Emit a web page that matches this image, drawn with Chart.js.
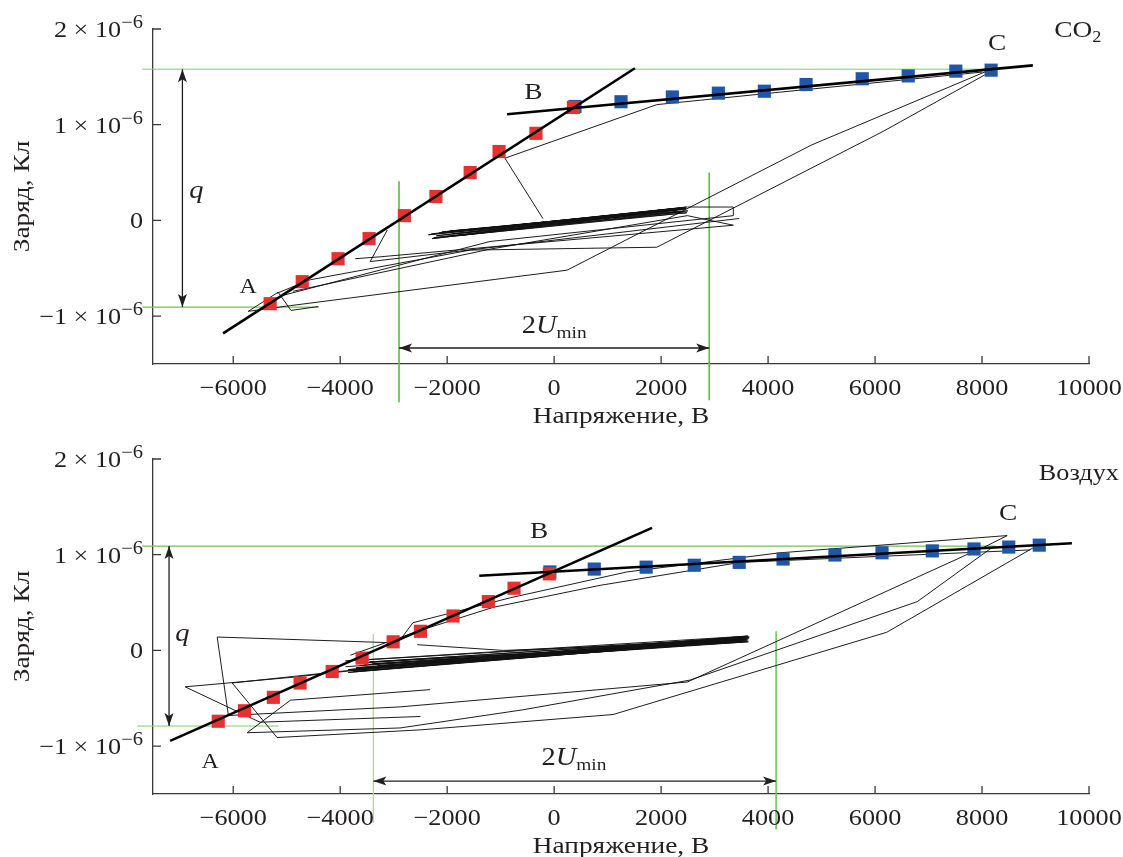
<!DOCTYPE html>
<html>
<head>
<meta charset="utf-8">
<script src="https://cdn.jsdelivr.net/npm/chart.js@4.4.1/dist/chart.umd.min.js"></script>
<style>
    html, body { margin: 0; padding: 0; background: #fff; overflow: hidden; width: 1123px; height: 857px; }
    canvas { position: absolute; left: 0; }
    #co2 { top: 0; }
    #air { top: 430px; }
</style>
</head>
<body>
<canvas id="co2" width="1123" height="430"></canvas>
<canvas id="air" width="1123" height="430"></canvas>
<script>
// axis ticks (voltage in V, charge in units of 10^-6 C)
const xTicks = [-6000, -4000, -2000, 0, 2000, 4000, 6000, 8000, 10000];
const yTicks = [-1, 0, 1, 2];

// ---- CO2 ----
const co2RedU = [-5310, -4710, -4040, -3460, -2800, -2210, -1570, -1030, -340, 360];
const co2RedQ = [-0.87, -0.64, -0.40, -0.19, 0.05, 0.25, 0.50, 0.72, 0.91, 1.18];
const co2BlueU = [390, 1250, 2210, 3070, 3930, 4710, 5760, 6620, 7510, 8170];
const co2BlueQ = [1.19, 1.24, 1.29, 1.33, 1.35, 1.42, 1.48, 1.51, 1.56, 1.57];
const co2FitABU = [-6190, 1510];
const co2FitABQ = [-1.18, 1.59];
const co2FitBCU = [-880, 8950];
const co2FitBCQ = [1.11, 1.62];

const co2Loop1U = [8090, 4820, 240, -4930, -5720, -5160, -4920, -4410];
const co2Loop1Q = [1.56, 0.79, -0.52, -0.89, -0.95, -0.75, -0.94, -0.90];
const co2Loop2U = [8050, 6150, 1920, -1570, -4560, -5180];
const co2Loop2Q = [1.52, 0.93, -0.28, -0.31, -0.62, -0.76];
const co2Loop3U = [-210, -920, 1920, 4220, 8000];
const co2Loop3Q = [0.02, 0.65, 1.21, 1.34, 1.55];
const co2Loop4U = [-5120, -1200, 3350, 3350, 2490];
const co2Loop4Q = [-0.79, -0.22, 0.05, 0.14, 0.14];
const co2Loop5U = [-4880, -1200, 2490, 3350, -3250, -3720];
const co2Loop5Q = [-0.74, -0.30, 0.05, -0.05, -0.38, -0.40];
const co2Loop6U = [-3120, -3440, 3460];
const co2Loop6Q = [-0.10, -0.43, 0.02];
const co2BandU = [-2300, 2480, -2200, 2450, -2100, 2500, -2250, 2400, -1900, 2480, -2000, 2300,
    -2350, 2450, -1600, 2200, -2150, 2420, -1800, 2350, -2280, 2470, -1950, 2380];
const co2BandQ = [-0.14, 0.14, -0.16, 0.12, -0.12, 0.10, -0.18, 0.13, -0.14, 0.08, -0.17, 0.11,
    -0.15, 0.135, -0.10, 0.12, -0.13, 0.09, -0.16, 0.115, -0.19, 0.125, -0.11, 0.10];

// green guides and arrows, CO2
const co2TopU = [-7700, 8050];
const co2TopQ = [1.58, 1.58];
const co2LowU = [-7700, -4400];
const co2LowQ = [-0.905, -0.905];
const co2VLeftU = [-2900, -2900];
const co2VLeftQ = [0.41, -1.90];
const co2VRightU = [2900, 2900];
const co2VRightQ = [0.50, -1.88];
const co2ArrQU = [-6950, -6950];
const co2ArrQQ = [1.58, -0.905];
const co2ArrUU = [-2900, 2900];
const co2ArrUQ = [-1.333, -1.333];

// ---- Air ----
const airRedU = [-6280, -5790, -5250, -4750, -4150, -3590, -3010, -2500, -1890, -1230, -750, -90];
const airRedQ = [-0.74, -0.63, -0.49, -0.34, -0.22, -0.08, 0.09, 0.20, 0.36, 0.51, 0.65, 0.80];
const airBlueU = [-80, 750, 1720, 2620, 3460, 4280, 5250, 6130, 7070, 7850, 8500, 9070];
const airBlueQ = [0.82, 0.85, 0.87, 0.89, 0.92, 0.955, 0.997, 1.02, 1.04, 1.06, 1.08, 1.10];
const airFitABU = [-7180, 1830];
const airFitABQ = [-0.945, 1.28];
const airFitBCU = [-1400, 9680];
const airFitBCQ = [0.78, 1.12];

const airLoop1U = [8950, 6220, 1100, -2500, -5180, -6020, -2500, 3630];
const airLoop1Q = [1.07, 0.19, -0.67, -0.83, -0.91, -0.34, -0.13, 0.15];
const airLoop2U = [8200, 6790, 2540, -580, -2880, -5740, -4930, -2320];
const airLoop2Q = [1.08, 0.51, -0.31, -0.62, -0.81, -0.86, -0.52, -0.41];
const airLoop3U = [7830, 4220, 2490, -2880, -6090, -6300, -3010];
const airLoop3Q = [1.03, 0.11, -0.33, -0.59, -0.68, 0.14, 0.08];
const airLoop4U = [7830, 8470, 4220, 1360, -820, -2640, -2880];
const airLoop4Q = [1.02, 1.20, 1.02, 0.82, 0.55, 0.29, 0.11];
const airLoop5U = [8900, 3480, 860, -1140, -2500, -3810];
const airLoop5Q = [1.05, 0.92, 0.68, 0.45, 0.21, -0.05];
const airLoop6U = [-6900, -4880, -2500];
const airLoop6Q = [-0.38, -0.28, -0.13];
const airLoop7U = [-6900, -5500, -2500];
const airLoop7Q = [-0.38, -0.75, -0.69];
const airLoop8U = [-2560, -950, 3630];
const airLoop8Q = [0.06, 0.00, 0.10];
const airBandU = [-3900, 3630, -3800, 3600, -3600, 3650, -3850, 3550, -3400, 3630, -3700, 3500,
    -3900, 3620, -3300, 3400, -3750, 3600, -3550, 3580, -3850, 3640, -3450, 3520, -3700, 3610];
const airBandQ = [-0.17, 0.12, -0.21, 0.10, -0.13, 0.14, -0.23, 0.11, -0.14, 0.09, -0.19, 0.13,
    -0.11, 0.15, -0.16, 0.10, -0.22, 0.12, -0.15, 0.11, -0.20, 0.13, -0.12, 0.09, -0.18, 0.14];

const airTopU = [-7700, 8260];
const airTopQ = [1.09, 1.09];
const airLowU = [-7800, -5150];
const airLowQ = [-0.79, -0.79];
const airVLeftU = [-3380, -3380];
const airVLeftQ = [0.17, -1.80];
const airVRightU = [4150, 4150];
const airVRightQ = [0.20, -1.87];
const airArrQU = [-7200, -7200];
const airArrQQ = [1.09, -0.79];
const airArrUU = [-3380, 4150];
const airArrUQ = [-1.365, -1.365];

const SX = 1.14;
const SERIF = '"Liberation Serif", "Times New Roman", serif';
const INK = '#231f20';

function pts(us, qs) {
    return us.map((u, i) => ({ x: u, y: qs[i] }));
}
function thin(us, qs) {
    return { data: pts(us, qs), showLine: true, pointRadius: 0, borderColor: '#111', borderWidth: 0.95, order: 3 };
}
function fit(us, qs) {
    return { data: pts(us, qs), showLine: true, pointRadius: 0, borderColor: '#000', borderWidth: 2.6, order: 0 };
}
function squares(us, qs, color, order) {
    return { data: pts(us, qs), showLine: false, pointStyle: 'rect', pointRadius: 9.3,
        pointBackgroundColor: color, pointBorderWidth: 0, order: order };
}
function guide(us, qs, color, width) {
    return { data: pts(us, qs), showLine: true, pointRadius: 0, borderColor: color, borderWidth: width, clip: false, order: 5 };
}
function arrow(us, qs) {
    return { label: 'arrow', data: pts(us, qs), showLine: true, pointRadius: 0, borderColor: INK, borderWidth: 1.3, clip: false, order: 4 };
}

function drawRuns(ctx, runs, x, y, align) {
    let w = 0;
    runs.forEach(r => { ctx.font = r.font; r.w = ctx.measureText(r.text).width * SX; w += r.w; });
    let cx = align === 'right' ? x - w : align === 'center' ? x - w / 2 : x;
    runs.forEach(r => {
        ctx.save();
        ctx.font = r.font;
        ctx.textAlign = 'left';
        ctx.textBaseline = 'alphabetic';
        ctx.translate(cx, y + (r.dy || 0));
        ctx.scale(SX, 1);
        ctx.fillText(r.text, 0, 0);
        ctx.restore();
        cx += r.w;
    });
}

function fmtV(v) {
    return v < 0 ? '\u2212' + Math.abs(v) : String(v);
}

const framePlugin = {
    id: 'frame',
    afterDatasetsDraw(chart) {
        const ctx = chart.ctx;
        ctx.save();
        ctx.fillStyle = INK;
        chart.data.datasets.forEach((ds, i) => {
            if (ds.label !== 'arrow') return;
            const d = chart.getDatasetMeta(i).data;
            const a = d[0], b = d[d.length - 1];
            [[a, b], [b, a]].forEach(([tip, from]) => {
                const ang = Math.atan2(tip.y - from.y, tip.x - from.x);
                ctx.beginPath();
                ctx.moveTo(tip.x, tip.y);
                ctx.lineTo(tip.x - 13 * Math.cos(ang) + 4.5 * Math.sin(ang), tip.y - 13 * Math.sin(ang) - 4.5 * Math.cos(ang));
                ctx.lineTo(tip.x - 10 * Math.cos(ang), tip.y - 10 * Math.sin(ang));
                ctx.lineTo(tip.x - 13 * Math.cos(ang) - 4.5 * Math.sin(ang), tip.y - 13 * Math.sin(ang) + 4.5 * Math.cos(ang));
                ctx.closePath();
                ctx.fill();
            });
        });
        ctx.restore();
    },
    afterDraw(chart, args, opts) {
        const { ctx, chartArea: a, scales: { x, y } } = chart;
        ctx.save();
        // inward tick marks
        ctx.strokeStyle = '#3a3a3a';
        ctx.lineWidth = 1.3;
        ctx.beginPath();
        xTicks.forEach(v => {
            const px = x.getPixelForValue(v);
            ctx.moveTo(px, a.bottom);
            ctx.lineTo(px, a.bottom - 8);
        });
        yTicks.forEach(v => {
            const py = y.getPixelForValue(v);
            ctx.moveTo(a.left, py);
            ctx.lineTo(a.left + 8, py);
        });
        ctx.stroke();

        ctx.fillStyle = INK;
        const tickFont = '23px ' + SERIF;
        xTicks.forEach(v => {
            drawRuns(ctx, [{ text: fmtV(v), font: tickFont }], x.getPixelForValue(v), a.bottom + 31, 'center');
        });
        yTicks.forEach(v => {
            const py = y.getPixelForValue(v);
            const runs = v === 0 ? [{ text: '0', font: tickFont }]
                : [{ text: fmtV(v) + ' \u00d7 10', font: tickFont }, { text: '\u22126', font: '18px ' + SERIF, dy: -9 }];
            drawRuns(ctx, runs, a.left - 10, py + 8, 'right');
        });

        // axis titles
        const titleFont = '24px ' + SERIF;
        drawRuns(ctx, [{ text: 'Напряжение, В', font: titleFont }], (a.left + a.right) / 2, a.bottom + 59, 'center');
        ctx.save();
        ctx.translate(28.5, (a.top + a.bottom) / 2);
        ctx.rotate(-Math.PI / 2);
        drawRuns(ctx, [{ text: 'Заряд, Кл', font: titleFont }], 0, 0, 'center');
        ctx.restore();

        // labels on the plot
        (opts.notes || []).forEach(n => {
            drawRuns(ctx, n.runs, x.getPixelForValue(n.u), y.getPixelForValue(n.q), 'center');
        });
        ctx.restore();
    }
};

function letter(t, size) {
    return [{ text: t, font: size + 'px ' + SERIF }];
}
function uminRuns() {
    return [
        { text: '2', font: '25px ' + SERIF },
        { text: 'U', font: 'italic 25px ' + SERIF },
        { text: 'min', font: '17px ' + SERIF, dy: 5 }
    ];
}

function makeChart(id, datasets, notes) {
    return new Chart(document.getElementById(id), {
        type: 'scatter',
        data: { datasets: datasets },
        options: {
            responsive: false,
            animation: false,
            devicePixelRatio: 1,
            events: [],
            layout: { padding: { top: 29, right: 34, left: 0, bottom: 0 } },
            plugins: {
                legend: { display: false },
                tooltip: { enabled: false },
                frame: { notes: notes }
            },
            scales: {
                x: {
                    type: 'linear', min: -7500, max: 10000,
                    grid: { display: false },
                    ticks: { display: false },
                    border: { color: '#3a3a3a', width: 1.3 },
                    afterFit(s) { s.height = 66; }
                },
                y: {
                    type: 'linear', min: -1.5, max: 2,
                    grid: { display: false },
                    ticks: { display: false },
                    border: { color: '#3a3a3a', width: 1.3 },
                    afterFit(s) { s.width = 153; }
                }
            }
        },
        plugins: [framePlugin]
    });
}

makeChart('co2', [
    fit(co2FitABU, co2FitABQ),
    fit(co2FitBCU, co2FitBCQ),
    squares(co2RedU, co2RedQ, '#e8312f', 1),
    squares(co2BlueU, co2BlueQ, '#1f56a8', 2),
    thin(co2Loop1U, co2Loop1Q),
    thin(co2Loop2U, co2Loop2Q),
    thin(co2Loop3U, co2Loop3Q),
    thin(co2Loop4U, co2Loop4Q),
    thin(co2Loop5U, co2Loop5Q),
    thin(co2Loop6U, co2Loop6Q),
    thin(co2BandU, co2BandQ),
    arrow(co2ArrQU, co2ArrQQ),
    arrow(co2ArrUU, co2ArrUQ),
    guide(co2TopU, co2TopQ, '#7fcf6c', 1),
    guide(co2LowU, co2LowQ, '#6cc653', 1.3),
    guide(co2VLeftU, co2VLeftQ, '#5dbb46', 1.6),
    guide(co2VRightU, co2VRightQ, '#5dbb46', 1.6)
], [
    { u: -5720, q: -0.76, runs: letter('A', 21) },
    { u: -390, q: 1.27, runs: letter('B', 24) },
    { u: 8280, q: 1.78, runs: letter('C', 24) },
    { u: 9790, q: 1.92, runs: [{ text: 'CO', font: '24px ' + SERIF }, { text: '2', font: '16px ' + SERIF, dy: 5 }] },
    { u: -6690, q: 0.23, runs: [{ text: 'q', font: 'italic 25px ' + SERIF }] },
    { u: 0, q: -1.18, runs: uminRuns() }
]);

makeChart('air', [
    fit(airFitABU, airFitABQ),
    fit(airFitBCU, airFitBCQ),
    squares(airRedU, airRedQ, '#e8312f', 1),
    squares(airBlueU, airBlueQ, '#1f56a8', 2),
    thin(airLoop1U, airLoop1Q),
    thin(airLoop2U, airLoop2Q),
    thin(airLoop3U, airLoop3Q),
    thin(airLoop4U, airLoop4Q),
    thin(airLoop5U, airLoop5Q),
    thin(airLoop6U, airLoop6Q),
    thin(airLoop7U, airLoop7Q),
    thin(airLoop8U, airLoop8Q),
    thin(airBandU, airBandQ),
    arrow(airArrQU, airArrQQ),
    arrow(airArrUU, airArrUQ),
    guide(airTopU, airTopQ, '#6cc653', 1.3),
    guide(airLowU, airLowQ, '#7fcf6c', 1),
    guide(airVLeftU, airVLeftQ, '#b9d4ad', 1),
    guide(airVRightU, airVRightQ, '#6cc24a', 1.5)
], [
    { u: -6430, q: -1.23, runs: letter('A', 21) },
    { u: -280, q: 1.17, runs: letter('B', 24) },
    { u: 8490, q: 1.36, runs: letter('C', 24) },
    { u: 9810, q: 1.78, runs: letter('Воздух', 23) },
    { u: -6950, q: 0.10, runs: [{ text: 'q', font: 'italic 25px ' + SERIF }] },
    { u: 370, q: -1.20, runs: uminRuns() }
]);
</script>
</body>
</html>
